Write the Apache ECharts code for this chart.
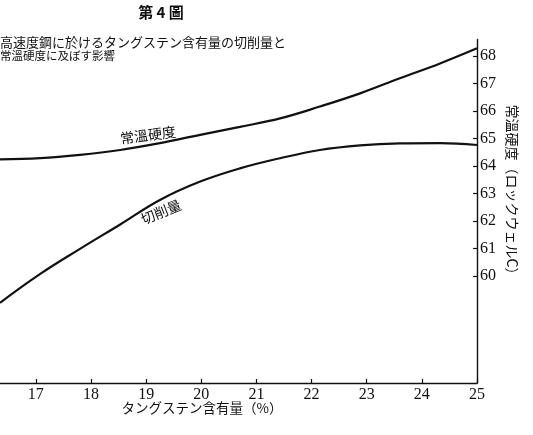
<!DOCTYPE html>
<html>
<head>
<meta charset="utf-8">
<script src="https://cdn.jsdelivr.net/npm/echarts@6/dist/echarts.min.js"></script>
<style>
html,body{margin:0;padding:0;background:#fff;}
#chart{width:533px;height:435px;}
</style>
</head>
<body>
<div id="chart"></div>
<script>
// タングステン含有量 (%)
const tungsten = [16.35, 17.08, 17.8, 18.53, 19.25, 19.98, 20.7, 21.43, 22.15, 22.88, 23.6, 24.33, 25];
// 常溫硬度 (ロックウェルC)
const hardness = [64.24, 64.28, 64.40, 64.58, 64.83, 65.13, 65.42, 65.73, 66.16, 66.64, 67.19, 67.73, 68.28];
// 切削量 (drawn on the same scale as in the figure)
const cutting = [59.02, 60.07, 60.98, 61.87, 62.76, 63.43, 63.91, 64.28, 64.58, 64.75, 64.82, 64.83, 64.76];
// tick labels
const xTicks = [17, 18, 19, 20, 21, 22, 23, 24, 25];
const yTicks = [60, 61, 62, 63, 64, 65, 66, 67, 68];

const chart = echarts.init(document.getElementById('chart'), null, {renderer: 'canvas'});
const ink = '#111';
const cjk = '"Noto Sans CJK JP", sans-serif';
const num = '"Liberation Serif", "DejaVu Serif", serif';

chart.setOption({
  backgroundColor: '#ffffff',
  animation: false,
  grid: {left: 0, right: 56, top: 39.5, bottom: 52, containLabel: false},
  xAxis: {
    type: 'value',
    min: 16.35,
    max: 25,
    axisLine: {show: true, onZero: false, lineStyle: {color: ink, width: 1.4}},
    axisTick: {show: true, inside: true, length: 4, customValues: xTicks, lineStyle: {color: ink, width: 1.2}},
    axisLabel: {show: true, customValues: xTicks, margin: 4, color: ink, fontSize: 16, fontFamily: num},
    splitLine: {show: false}
  },
  yAxis: {
    type: 'value',
    position: 'right',
    min: 56.1,
    max: 68.6,
    axisLine: {show: true, onZero: false, lineStyle: {color: ink, width: 1.4}},
    axisTick: {show: true, inside: true, length: 4, customValues: yTicks, lineStyle: {color: ink, width: 1.2}},
    axisLabel: {show: true, customValues: yTicks, margin: 3, color: ink, fontSize: 16, fontFamily: num},
    splitLine: {show: false}
  },
  series: [
    {
      name: '常溫硬度',
      type: 'line',
      data: tungsten.map((x, i) => [x, hardness[i]]),
      smooth: 0.4,
      showSymbol: false,
      symbol: 'none',
      lineStyle: {color: ink, width: 2.2},
      clip: true
    },
    {
      name: '切削量',
      type: 'line',
      data: tungsten.map((x, i) => [x, cutting[i]]),
      smooth: 0.4,
      showSymbol: false,
      symbol: 'none',
      lineStyle: {color: ink, width: 2.2},
      clip: true
    }
  ],
  graphic: [
    {type: 'text', x: 161, y: 12, style: {text: '第 4 圖', fontSize: 15, fontWeight: 'bold', fontFamily: cjk, fill: ink, align: 'center', verticalAlign: 'middle'}},
    {type: 'text', x: 0, y: 42.5, style: {text: '高速度鋼に於けるタングステン含有量の切削量と', fontSize: 13, fontFamily: cjk, fill: ink, align: 'left', verticalAlign: 'middle'}},
    {type: 'text', x: 0, y: 56, style: {text: '常溫硬度に及ぼす影響', fontSize: 11.5, fontFamily: cjk, fill: ink, align: 'left', verticalAlign: 'middle'}},
    {type: 'text', x: 148, y: 135, rotation: 0.13, style: {text: '常溫硬度', fontSize: 14, fontFamily: cjk, fill: ink, align: 'center', verticalAlign: 'middle'}},
    {type: 'text', x: 161, y: 212, rotation: 0.38, style: {text: '切削量', fontSize: 14, fontFamily: cjk, fill: ink, align: 'center', verticalAlign: 'middle'}},
    {type: 'text', x: 512, y: 193, rotation: -Math.PI / 2, style: {text: '常溫硬度（ロックウェルC）', fontSize: 14, fontFamily: cjk, fill: ink, align: 'center', verticalAlign: 'middle'}},
    {type: 'text', x: 202, y: 408, style: {text: 'タングステン含有量（%）', fontSize: 13.5, fontFamily: cjk, fill: ink, align: 'center', verticalAlign: 'middle'}}
  ]
});
</script>
</body>
</html>
